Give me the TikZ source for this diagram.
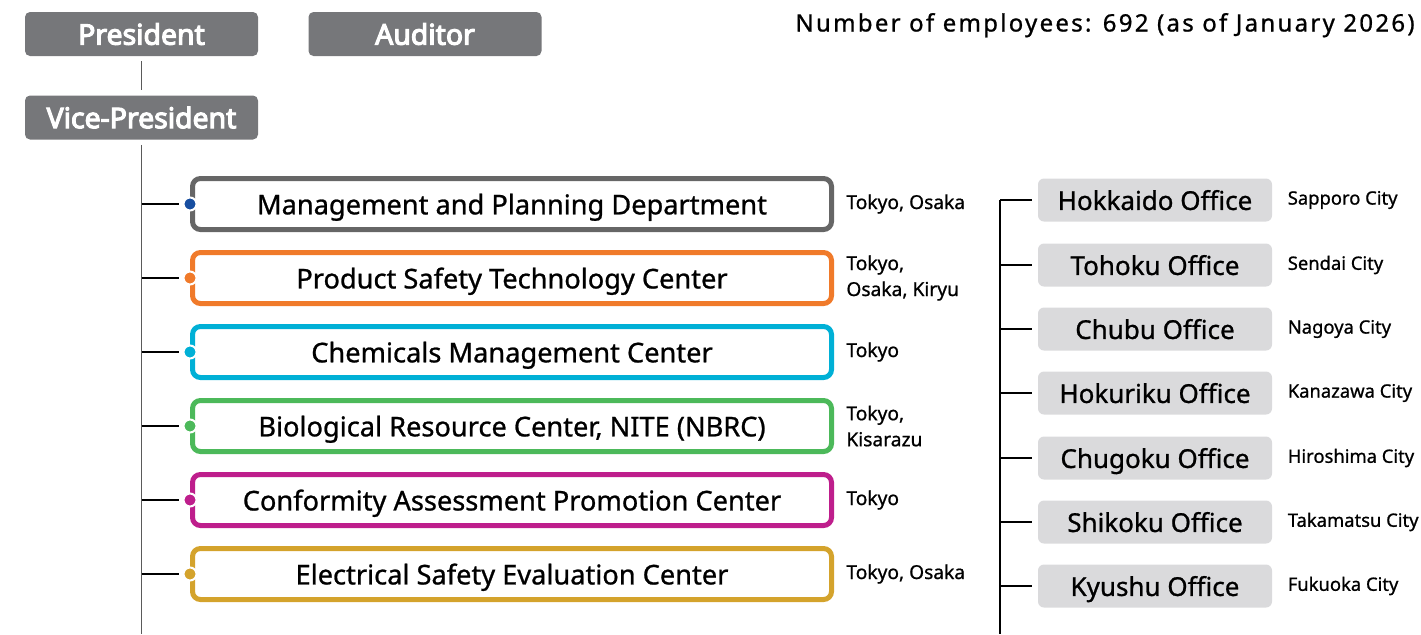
\documentclass[tikz,border=0pt]{standalone}
\usepackage{fontspec}
\setmainfont{Noto Sans}
\newfontfamily\medfont{Noto Sans}[FakeBold = 0.9]
\newfontfamily\headfont{Noto Sans}[FakeBold = 4]
\usetikzlibrary{positioning}
\definecolor{headgray}{RGB}{118,119,122}
\definecolor{officegray}{RGB}{218,218,220}
\definecolor{linegray}{RGB}{90,90,90}
\definecolor{mgmtline}{RGB}{102,102,102}
\definecolor{mgmtdot}{RGB}{23,78,160}
\definecolor{prodline}{RGB}{240,122,42}
\definecolor{chemline}{RGB}{0,176,214}
\definecolor{bioline}{RGB}{76,185,90}
\definecolor{confline}{RGB}{190,30,140}
\definecolor{elecline}{RGB}{212,163,44}

\begin{document}
\begin{tikzpicture}
      [x = 0.5pt, y = -0.5pt,
      head/.style= {
         fill = headgray,
         rounded corners = 2.5pt,
         minimum width = 116.5pt,
         minimum height = 22pt,
         text = white,
         font = \headfont\fontsize{14.2}{16}\selectfont
      },
      dept/.style= {
         draw = #1,
         line width = 2.5pt,
         rounded corners = 4pt,
         minimum width = 319.5pt,
         minimum height = 25.5pt,
         text depth = 0pt,
         font = \medfont\fontsize{13.6}{16}\selectfont
      },
      dot/.style= {
         circle,
         fill = #1,
         draw = white,
         line width = 1pt,
         inner sep = 0pt,
         minimum size = 6.5pt
      },
      place/.style= {
         inner sep = 0pt,
         align = left,
         font = \medfont\fontsize{9.6}{13}\selectfont
      },
      office/.style= {
         fill = officegray,
         rounded corners = 3pt,
         minimum width = 117pt,
         minimum height = 21.5pt,
         text depth = 0pt,
         font = \medfont\fontsize{13}{15}\selectfont
      },
      city/.style= {
         inner sep = 0pt,
         font = \medfont\fontsize{9.2}{11}\selectfont
      },
      trunk/.style= {draw = linegray, line width = 0.8pt},
      tick/.style= {draw = black, line width = 0.7pt}]

      \useasboundingbox (0, 0) rectangle (1421, 634);

      \node[head] (pres) at (141.5, 34) {President};
      \node[head] (aud) at (425, 34) {Auditor};
      \node[head] (vp) at (141.5, 117.5) {Vice-President};
      \node[anchor = base east, inner sep = 0pt,
         font = \medfont\fontsize{12}{14}\selectfont\addfontfeatures{LetterSpace = 9.5}]
         (count) at (1415, 31.5) {Number of employees: 692 (as of January 2026)};

      \coordinate (vpend) at (141.5, 634);
      \draw[trunk, shorten < = 2.5pt, shorten > = 2.5pt] (pres) -- (vp);
      \draw[trunk, shorten < = 2.5pt] (vp.south) -- (vpend);

      % centers
      \node[dept = mgmtline] (mgmt) at (512, 204) {Management and Planning Department};
      \node[dept = prodline] (prod) at (512, 278) {Product Safety Technology Center};
      \node[dept = chemline] (chem) at (512, 352) {Chemicals Management Center};
      \node[dept = bioline] (bio) at (512, 426) {Biological Resource Center, NITE (NBRC)};
      \node[dept = confline] (conf) at (512, 500) {Conformity Assessment Promotion Center};
      \node[dept = elecline] (elec) at (512, 574) {Electrical Safety Evaluation Center};

      \node[dot = mgmtdot] (pmgmt) at (mgmt.west) {};
      \node[dot = prodline] (pprod) at (prod.west) {};
      \node[dot = chemline] (pchem) at (chem.west) {};
      \node[dot = bioline] (pbio) at (bio.west) {};
      \node[dot = confline] (pconf) at (conf.west) {};
      \node[dot = elecline] (pelec) at (elec.west) {};

      \draw[tick, shorten > = 2pt] (vp.south |- pmgmt) -- (pmgmt.west);
      \draw[tick, shorten > = 2pt] (vp.south |- pprod) -- (pprod.west);
      \draw[tick, shorten > = 2pt] (vp.south |- pchem) -- (pchem.west);
      \draw[tick, shorten > = 2pt] (vp.south |- pbio) -- (pbio.west);
      \draw[tick, shorten > = 2pt] (vp.south |- pconf) -- (pconf.west);
      \draw[tick, shorten > = 2pt] (vp.south |- pelec) -- (pelec.west);

      \node[place, right = 6pt of mgmt] (mgmtplace) {Tokyo, Osaka};
      \node[place, right = 6pt of prod] (prodplace) {Tokyo,\\Osaka, Kiryu};
      \node[place, right = 6pt of chem] (chemplace) {Tokyo};
      \node[place, right = 6pt of bio] (bioplace) {Tokyo,\\Kisarazu};
      \node[place, right = 6pt of conf] (confplace) {Tokyo};
      \node[place, right = 6pt of elec] (elecplace) {Tokyo, Osaka};

      % regional offices
      \node[office] (hok) at (1155, 200) {Hokkaido Office};
      \node[office] (toh) at (1155, 265) {Tohoku Office};
      \node[office] (chu) at (1155, 329) {Chubu Office};
      \node[office] (hkr) at (1155, 393) {Hokuriku Office};
      \node[office] (cgk) at (1155, 458) {Chugoku Office};
      \node[office] (shi) at (1155, 522) {Shikoku Office};
      \node[office] (kyu) at (1155, 586) {Kyushu Office};

      \node[city, right = 7.5pt of hok] (hokcity) {Sapporo City};
      \node[city, right = 7.5pt of toh] (tohcity) {Sendai City};
      \node[city, right = 7.5pt of chu] (chucity) {Nagoya City};
      \node[city, right = 7.5pt of hkr] (hkrcity) {Kanazawa City};
      \node[city, right = 7.5pt of cgk] (cgkcity) {Hiroshima City};
      \node[city, right = 7.5pt of shi] (shicity) {Takamatsu City};
      \node[city, right = 7.5pt of kyu] (kyucity) {Fukuoka City};

      \coordinate (otop) at (1000, 200);
      \coordinate (obot) at (1000, 634);
      \draw[tick] (otop) -- (obot);
      \draw[tick, shorten > = 3pt] (otop) -- (hok.west);
      \draw[tick, shorten > = 3pt] (otop |- toh) -- (toh.west);
      \draw[tick, shorten > = 3pt] (otop |- chu) -- (chu.west);
      \draw[tick, shorten > = 3pt] (otop |- hkr) -- (hkr.west);
      \draw[tick, shorten > = 3pt] (otop |- cgk) -- (cgk.west);
      \draw[tick, shorten > = 3pt] (otop |- shi) -- (shi.west);
      \draw[tick, shorten > = 3pt] (otop |- kyu) -- (kyu.west);

   \end{tikzpicture}
\end{document}
